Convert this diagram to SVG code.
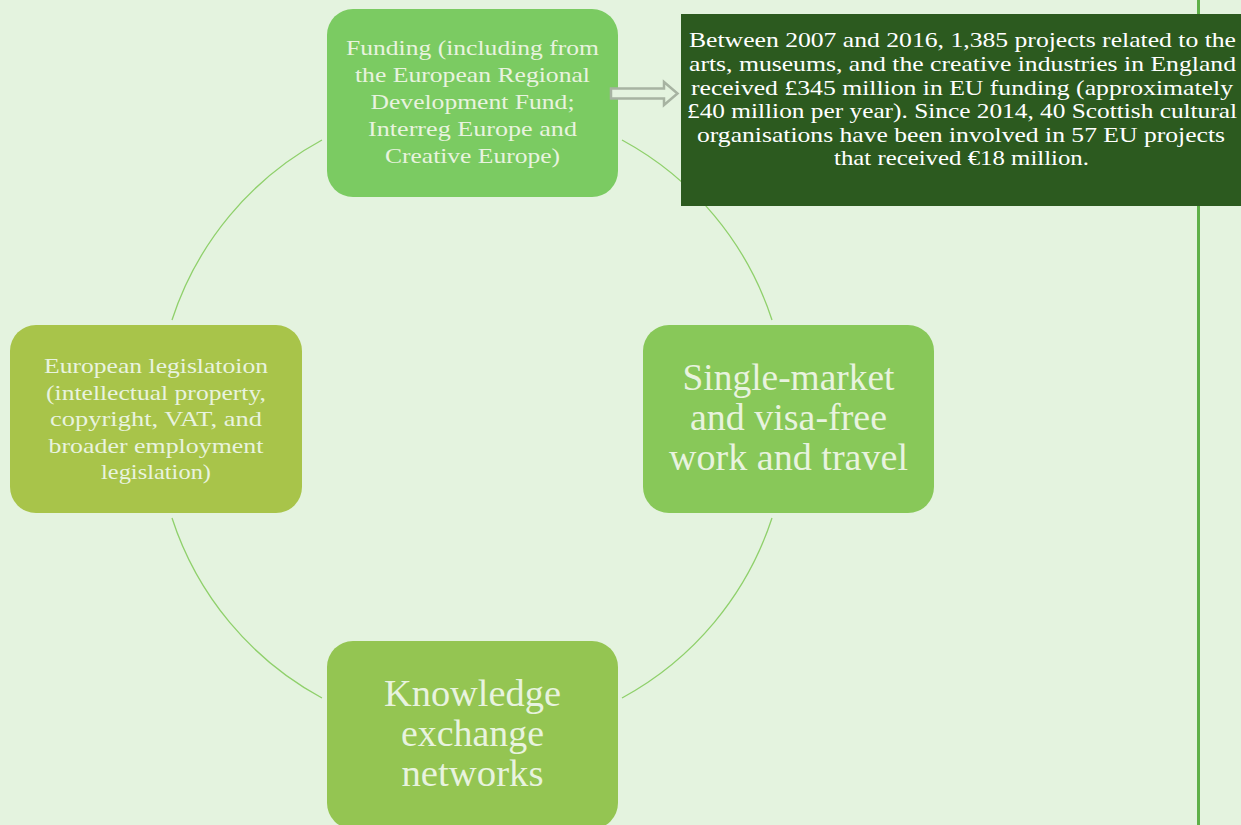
<svg xmlns="http://www.w3.org/2000/svg" width="1241" height="825" viewBox="0 0 1241 825">
<style>
.bg{fill:#e4f3df}
.arc{fill:none;stroke:#8fd06b;stroke-width:1.3}
.node text{font-family:"Liberation Serif","DejaVu Serif",serif;fill:#e8f3df;text-anchor:middle}
.small{font-size:22px}
.big{font-size:37px}
.note text{font-family:"Liberation Serif","DejaVu Serif",serif;fill:#ffffff;text-anchor:middle;font-size:21.5px}
</style>
<rect class="bg" x="0" y="0" width="1241" height="825"/>
<g id="rule">
<line x1="1198.5" y1="0" x2="1198.5" y2="14" stroke="#5fb049" stroke-width="3"/>
<line x1="1198.5" y1="204" x2="1198.5" y2="825" stroke="#5fb049" stroke-width="3"/>
</g>
<g id="connectors">
<path class="arc" d="M322 140 A316 316 0 0 0 172 320"/>
<path class="arc" d="M172 518 A316 316 0 0 0 322 698"/>
<path class="arc" d="M622 698 A316 316 0 0 0 772 518"/>
<path class="arc" d="M772 320 A316 316 0 0 0 622 140"/>
</g>
<g id="funding" class="node">
<rect x="327" y="9" width="291" height="188" rx="26" fill="#7bcb62"/>
<text class="small"><tspan x="472.5" y="55" textLength="253" lengthAdjust="spacingAndGlyphs">Funding (including from</tspan><tspan x="472.5" y="82" textLength="235" lengthAdjust="spacingAndGlyphs">the European Regional</tspan><tspan x="472.5" y="109" textLength="204" lengthAdjust="spacingAndGlyphs">Development Fund;</tspan><tspan x="472.5" y="136" textLength="209" lengthAdjust="spacingAndGlyphs">Interreg Europe and</tspan><tspan x="472.5" y="163" textLength="175" lengthAdjust="spacingAndGlyphs">Creative Europe)</tspan></text>
</g>
<g id="legislation" class="node">
<rect x="10" y="325" width="292" height="188" rx="26" fill="#a8c44a"/>
<text class="small"><tspan x="156" y="373" textLength="224" lengthAdjust="spacingAndGlyphs">European legislatoion</tspan><tspan x="156" y="399.5" textLength="220" lengthAdjust="spacingAndGlyphs">(intellectual property,</tspan><tspan x="156" y="426" textLength="212" lengthAdjust="spacingAndGlyphs">copyright, VAT, and</tspan><tspan x="156" y="452.5" textLength="215" lengthAdjust="spacingAndGlyphs">broader employment</tspan><tspan x="156" y="479" textLength="110" lengthAdjust="spacingAndGlyphs">legislation)</tspan></text>
</g>
<g id="singlemarket" class="node">
<rect x="643" y="325" width="291" height="188" rx="26" fill="#88c859"/>
<text class="big"><tspan x="788.5" y="390" textLength="212" lengthAdjust="spacingAndGlyphs">Single-market</tspan><tspan x="788.5" y="430" textLength="197" lengthAdjust="spacingAndGlyphs">and visa-free</tspan><tspan x="788.5" y="470" textLength="239" lengthAdjust="spacingAndGlyphs">work and travel</tspan></text>
</g>
<g id="knowledge" class="node">
<rect x="327" y="641" width="291" height="188" rx="26" fill="#94c552"/>
<text class="big"><tspan x="472.5" y="706" textLength="177" lengthAdjust="spacingAndGlyphs">Knowledge</tspan><tspan x="472.5" y="746" textLength="143" lengthAdjust="spacingAndGlyphs">exchange</tspan><tspan x="472.5" y="786" textLength="142" lengthAdjust="spacingAndGlyphs">networks</tspan></text>
</g>
<g id="note" class="note">
<rect x="681" y="14" width="560" height="192" fill="#2c5a1f"/>
<text><tspan x="962.5" y="47" textLength="547" lengthAdjust="spacingAndGlyphs">Between 2007 and 2016, 1,385 projects related to the</tspan><tspan x="962.5" y="71" textLength="547" lengthAdjust="spacingAndGlyphs">arts, museums, and the creative industries in England</tspan><tspan x="962" y="94.5" textLength="542" lengthAdjust="spacingAndGlyphs">received £345 million in EU funding (approximately</tspan><tspan x="962" y="118" textLength="550" lengthAdjust="spacingAndGlyphs">£40 million per year). Since 2014, 40 Scottish cultural</tspan><tspan x="961" y="141.5" textLength="528" lengthAdjust="spacingAndGlyphs">organisations have been involved in 57 EU projects</tspan><tspan x="961.5" y="165" textLength="255" lengthAdjust="spacingAndGlyphs">that received €18 million.</tspan></text>
</g>
<g id="arrow">
<path d="M611 88.5 H664 V82 L677.5 93.5 L664 105 V98.5 H611 Z" fill="#e4f3df" stroke="#a7b3a2" stroke-width="2.5"/>
</g>
</svg>
